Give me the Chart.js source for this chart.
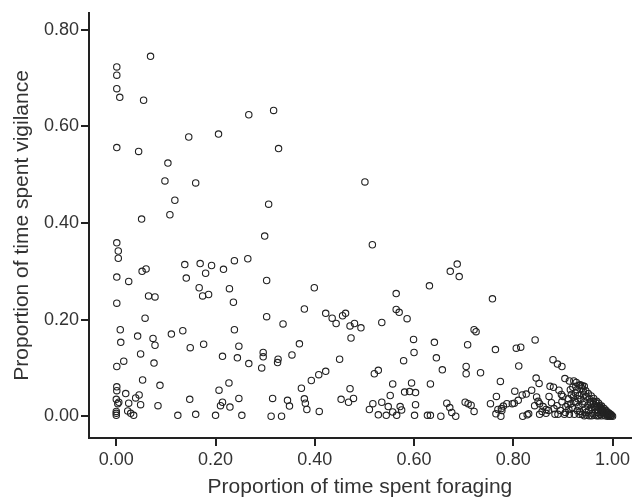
<!DOCTYPE html>
<html>
<head>
<meta charset="utf-8">
<script src="https://cdn.jsdelivr.net/npm/chart.js@4.4.0/dist/chart.umd.min.js"></script>
<style>
  html, body { margin: 0; padding: 0; background: #fff; }
  #chartCanvas { display: block; }
</style>
</head>
<body>
<canvas id="chartCanvas" width="636" height="504"></canvas>
<script>
// [foraging, vigilance], grouped by region
const leftGroup = [
  [0.001,0.723],[0.001,0.706],[0.001,0.678],[0.007,0.660],[0.055,0.654],[0.069,0.745],
  [0.001,0.556],[0.045,0.548],[0.104,0.524],[0.146,0.578],[0.206,0.584],[0.267,0.624],
  [0.317,0.633],[0.327,0.554],[0.307,0.439],[0.160,0.483],[0.098,0.487],[0.118,0.447],
  [0.108,0.417],[0.051,0.408],[0.001,0.359],[0.004,0.342],[0.004,0.327],[0.001,0.288],
  [0.025,0.279],[0.052,0.300],[0.060,0.305],[0.138,0.314],[0.141,0.286],[0.169,0.316],
  [0.180,0.296],[0.192,0.312],[0.216,0.304],[0.238,0.322],[0.265,0.326],[0.167,0.266],
  [0.174,0.249],[0.186,0.252],[0.228,0.264],[0.236,0.236],[0.065,0.249],[0.078,0.247],
  [0.001,0.234],[0.058,0.203],[0.008,0.179],[0.134,0.177],[0.238,0.179],[0.043,0.166],
  [0.074,0.161],[0.078,0.147],[0.111,0.170],[0.009,0.153],[0.049,0.129],[0.015,0.114],
  [0.001,0.103],[0.076,0.110],[0.149,0.142],[0.176,0.149],[0.247,0.145],[0.214,0.124],
  [0.244,0.121],[0.267,0.109],[0.053,0.075],[0.088,0.064],[0.001,0.061],[0.001,0.053],
  [0.019,0.047],[0.046,0.044],[0.039,0.038],[0.000,0.035],[0.005,0.029],[0.025,0.027],
  [0.049,0.024],[0.084,0.022],[0.023,0.011],[0.029,0.006],[0.035,0.002],[0.000,0.010],
  [0.000,0.006],[0.000,0.002],[0.124,0.002],[0.160,0.004],[0.200,0.002],[0.253,0.002],
  [0.148,0.035],[0.227,0.069],[0.207,0.054],[0.214,0.029],[0.210,0.022],[0.229,0.019],
  [0.247,0.037],[0.003,0.026]
];

const middleGroup = [
  [0.501,0.485],[0.299,0.373],[0.516,0.355],[0.303,0.281],[0.399,0.266],[0.631,0.270],
  [0.564,0.254],[0.379,0.222],[0.422,0.213],[0.435,0.203],[0.456,0.208],[0.462,0.213],
  [0.564,0.221],[0.570,0.215],[0.586,0.202],[0.303,0.206],[0.336,0.191],[0.443,0.192],
  [0.471,0.187],[0.480,0.192],[0.493,0.183],[0.473,0.162],[0.535,0.194],[0.599,0.159],
  [0.641,0.153],[0.600,0.132],[0.579,0.115],[0.645,0.121],[0.296,0.132],[0.296,0.123],
  [0.293,0.100],[0.326,0.118],[0.325,0.111],[0.354,0.127],[0.369,0.150],[0.450,0.118],
  [0.422,0.093],[0.408,0.086],[0.393,0.074],[0.373,0.058],[0.471,0.057],[0.520,0.088],
  [0.528,0.095],[0.557,0.067],[0.595,0.069],[0.633,0.067],[0.581,0.050],[0.591,0.051],
  [0.603,0.049],[0.552,0.043],[0.315,0.037],[0.345,0.033],[0.349,0.021],[0.379,0.036],
  [0.381,0.027],[0.384,0.014],[0.409,0.010],[0.453,0.035],[0.468,0.029],[0.478,0.037],
  [0.517,0.026],[0.510,0.014],[0.535,0.029],[0.548,0.020],[0.572,0.020],[0.575,0.013],
  [0.603,0.024],[0.557,0.009],[0.544,0.002],[0.528,0.003],[0.565,0.002],[0.601,0.002],
  [0.627,0.002],[0.633,0.002],[0.312,0.000],[0.333,0.000],[0.654,0.000]
];

const rightGroup = [
  [0.687,0.315],[0.673,0.300],[0.691,0.289],[0.758,0.243],[0.721,0.179],[0.725,0.175],
  [0.708,0.148],[0.764,0.138],[0.806,0.141],[0.815,0.143],[0.844,0.158],[0.657,0.096],
  [0.705,0.103],[0.705,0.088],[0.734,0.090],[0.811,0.104],[0.774,0.072],[0.880,0.117],
  [0.889,0.108],[0.898,0.103],[0.846,0.079],[0.852,0.068],[0.904,0.078],[0.913,0.073],
  [0.922,0.073],[0.874,0.062],[0.881,0.060],[0.892,0.054],[0.915,0.055],[0.939,0.063],
  [0.803,0.052],[0.818,0.044],[0.826,0.046],[0.837,0.054],[0.766,0.041],[0.810,0.033],
  [0.798,0.026],[0.769,0.014],[0.777,0.012],[0.666,0.027],[0.672,0.018],[0.676,0.008],
  [0.684,0.000],[0.703,0.029],[0.709,0.026],[0.715,0.023],[0.721,0.010],[0.754,0.026],
  [0.765,0.005],[0.775,0.000],[0.776,0.016],[0.780,0.021],[0.787,0.026],[0.802,0.027],
  [0.819,0.000],[0.828,0.003],[0.831,0.005],[0.847,0.040],[0.850,0.031],[0.843,0.022],
  [0.860,0.020],[0.872,0.041],[0.877,0.028],[0.866,0.006],[0.900,0.041],[0.906,0.020],
  [0.935,0.065],[0.943,0.062],[0.866,0.014],[0.853,0.004],[0.884,0.004],[0.890,0.004],
  [0.903,0.004],[0.913,0.004],[0.923,0.004],[0.933,0.004],[0.939,0.004],[0.910,0.024],
  [0.919,0.018],[0.926,0.028],[0.936,0.035],[0.925,0.048],[0.933,0.043],[0.941,0.052],
  [0.897,0.045],[0.853,0.026],[0.926,0.062],[0.858,0.010],[0.871,0.012],[0.882,0.016],
  [0.888,0.022],[0.895,0.012],[0.898,0.030],[0.905,0.008],[0.912,0.014],[0.916,0.026]
];

const cornerGroup = [
  [0.946,0.053],[0.951,0.047],[0.957,0.042],[0.962,0.037],[0.968,0.031],[0.972,0.027],
  [0.978,0.021],[0.983,0.016],[0.987,0.012],[0.992,0.007],[0.996,0.004],[1.000,0.000],
  [0.944,0.030],[0.948,0.040],[0.950,0.022],[0.952,0.012],[0.955,0.030],[0.958,0.018],
  [0.960,0.006],[0.962,0.026],[0.965,0.014],[0.967,0.022],[0.970,0.008],[0.973,0.017],
  [0.975,0.004],[0.977,0.012],[0.980,0.008],[0.982,0.003],[0.985,0.009],[0.988,0.004],
  [0.991,0.002],[0.994,0.003],[0.997,0.001],[0.998,0.002],[0.943,0.001],[0.948,0.002],
  [0.953,0.001],[0.958,0.001],[0.963,0.002],[0.968,0.001],[0.972,0.001],[0.978,0.001],
  [0.985,0.001],[0.990,0.000],[0.995,0.000],[0.921,0.040],[0.928,0.055],[0.930,0.036],
  [0.932,0.020],[0.934,0.010],[0.938,0.058],[0.940,0.025],[0.942,0.044],[0.945,0.015],
  [0.947,0.008],[0.929,0.012],[0.924,0.031],[0.917,0.045],[0.911,0.036],[0.920,0.060],
  [0.927,0.070],[0.933,0.064],[0.953,0.036],[0.956,0.027],[0.961,0.031],[0.964,0.020],
  [0.966,0.028],[0.969,0.019],[0.971,0.013],[0.974,0.022],[0.976,0.018],[0.979,0.014],
  [0.981,0.012],[0.984,0.006],[0.986,0.011],[0.989,0.008],[0.993,0.005]
];

const xTicks = [0, 0.2, 0.4, 0.6, 0.8, 1.0];
const yTicks = [0, 0.2, 0.4, 0.6, 0.8];

const allPoints = [...leftGroup, ...middleGroup, ...rightGroup, ...cornerGroup]
  .map(p => ({ x: p[0], y: p[1] }));

const ink = "#222";
const textColor = "#333";
const fontFamily = "'Liberation Sans', Arial, Helvetica, sans-serif";

const ctx = document.getElementById("chartCanvas").getContext("2d");
new Chart(ctx, {
  type: "scatter",
  data: {
    datasets: [{
      data: allPoints,
      pointStyle: "circle",
      pointRadius: 3.2,
      pointBorderWidth: 1.1,
      borderColor: ink,
      backgroundColor: "rgba(0,0,0,0)",
    }],
  },
  options: {
    responsive: false,
    animation: false,
    layout: { padding: { top: 7, right: 0, left: 0, bottom: 0 } },
    plugins: {
      legend: { display: false },
      tooltip: { enabled: false },
    },
    scales: {
      x: {
        type: "linear",
        min: -0.055,
        max: 1.037,
        afterBuildTicks: (s) => { s.ticks = xTicks.map(v => ({ value: v })); },
        afterFit: (s) => { s.height = 66; },
        ticks: {
          callback: (v) => Number(v).toFixed(2),
          color: textColor,
          font: { family: fontFamily, size: 18 },
          padding: 3,
          maxRotation: 0,
        },
        grid: { drawOnChartArea: false, drawTicks: true, tickLength: 8, color: ink, lineWidth: 2 },
        border: { display: true, color: ink, width: 2 },
        title: {
          display: true,
          text: "Proportion of time spent foraging",
          color: textColor,
          font: { family: fontFamily, size: 21 },
          padding: { top: 4, bottom: 4 },
        },
      },
      y: {
        type: "linear",
        min: -0.045,
        max: 0.835,
        afterBuildTicks: (s) => { s.ticks = yTicks.map(v => ({ value: v })); },
        afterFit: (s) => { s.width = 89; },
        ticks: {
          callback: (v) => Number(v).toFixed(2),
          color: textColor,
          font: { family: fontFamily, size: 18 },
          padding: 2,
        },
        grid: { drawOnChartArea: false, drawTicks: true, tickLength: 8, color: ink, lineWidth: 2 },
        border: { display: true, color: ink, width: 2 },
        title: {
          display: true,
          text: "Proportion of time spent vigilance",
          color: textColor,
          font: { family: fontFamily, size: 21 },
          padding: { top: 10, bottom: 10 },
        },
      },
    },
  },
});
</script>
</body>
</html>
